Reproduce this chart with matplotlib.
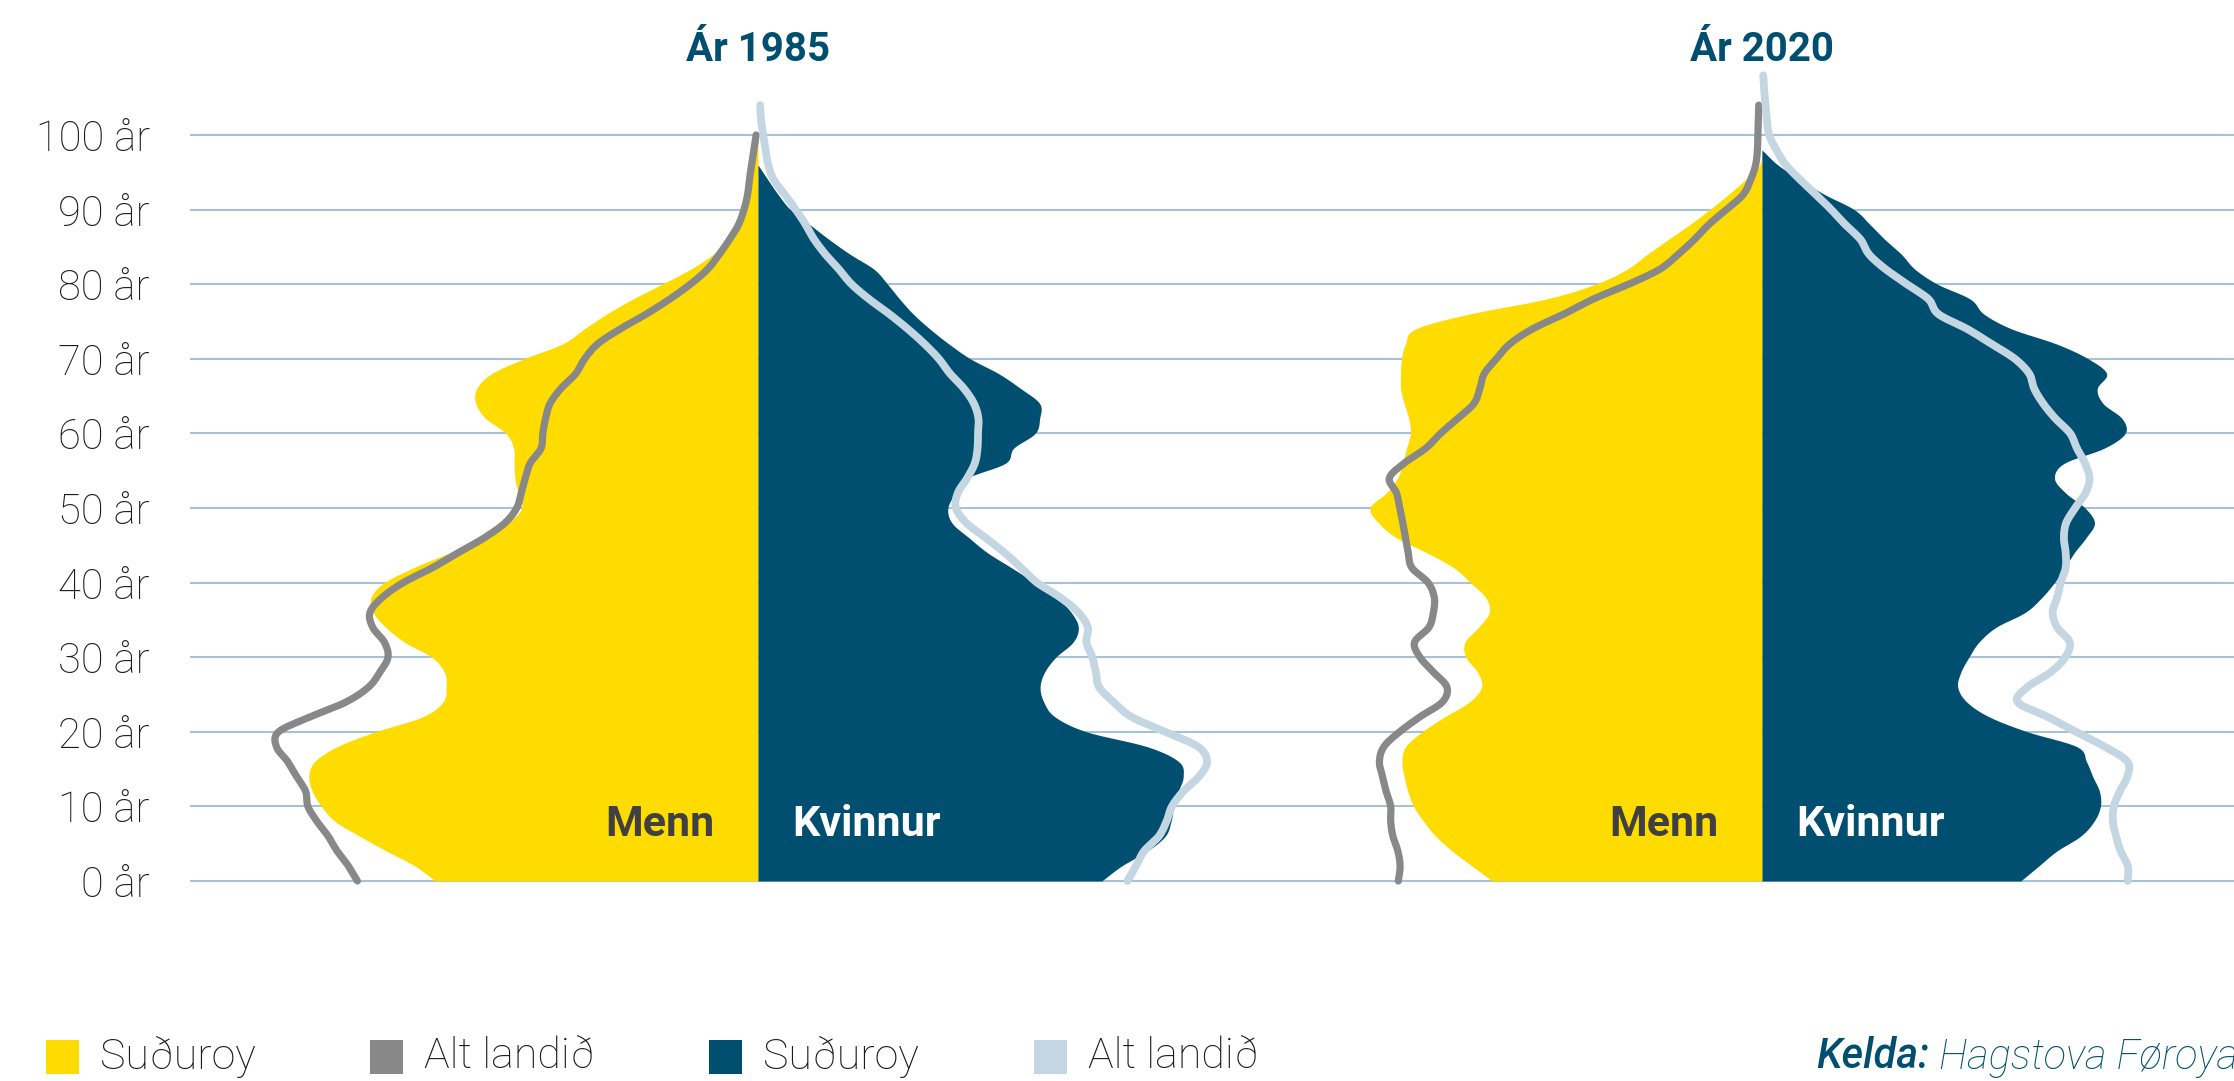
import numpy as np
import matplotlib.pyplot as plt
from matplotlib.patches import Rectangle

# Ages (every second year) and share of population per age in promille
ages = list(range(0, 110, 2))

menn_suduroy_1985 = [7.17, 7.62, 8.25, 8.85, 9.4, 9.7, 9.9, 9.98, 9.85, 9.35,
                     8.5, 7.45, 7.0, 6.93, 6.97, 7.25, 7.85, 8.27, 8.55, 8.6,
                     8.3, 7.65, 6.85, 6.1, 5.55, 5.25, 5.33, 5.4, 5.42, 5.43,
                     5.6, 6.05, 6.27, 6.25, 5.92, 5.2, 4.34, 3.86, 3.36, 2.78,
                     2.13, 1.5, 1.0, 0.7, 0.5, 0.33, 0.24, 0.18, 0.12, 0.07, 0.02]
menn_alt_1985 = [8.9, 9.1, 9.35, 9.55, 9.8, 10.0, 10.05, 10.25, 10.45, 10.7,
                 10.65, 9.95, 9.15, 8.65, 8.4, 8.22, 8.3, 8.56, 8.62, 8.35,
                 7.88, 7.23, 6.66, 6.08, 5.62, 5.36, 5.26, 5.17, 5.06, 4.82,
                 4.78, 4.72, 4.62, 4.38, 4.05, 3.85, 3.56, 3.06, 2.48, 1.96,
                 1.5, 1.12, 0.86, 0.63, 0.43, 0.31, 0.23, 0.19, 0.14, 0.09, 0.04]
kvinnur_suduroy_1985 = [7.64, 8.08, 8.65, 9.05, 9.18, 9.24, 9.34, 9.45, 9.35, 8.65,
                        7.3, 6.6, 6.35, 6.27, 6.37, 6.62, 7.0, 7.12, 6.96, 6.63,
                        6.15, 5.63, 5.1, 4.69, 4.31, 4.22, 4.39, 4.65, 5.5, 5.68,
                        6.16, 6.26, 6.26, 5.84, 5.35, 4.72, 4.24, 3.82, 3.45, 3.15,
                        2.88, 2.58, 2.05, 1.58, 1.15, 0.72, 0.45, 0.22, 0.0]
kvinnur_alt_1985 = [8.21, 8.4, 8.58, 8.91, 9.08, 9.2, 9.45, 9.8, 9.98, 9.78,
                    9.05, 8.3, 7.9, 7.58, 7.51, 7.43, 7.3, 7.33, 7.12, 6.72,
                    6.2, 5.85, 5.48, 5.06, 4.63, 4.4, 4.44, 4.65, 4.82, 4.88,
                    4.89, 4.9, 4.8, 4.58, 4.27, 4.02, 3.7, 3.33, 2.92, 2.47,
                    2.08, 1.8, 1.5, 1.25, 1.06, 0.84, 0.6, 0.35, 0.23, 0.17,
                    0.12, 0.07, 0.05]

menn_suduroy_2020 = [5.99, 6.44, 6.88, 7.25, 7.52, 7.74, 7.87, 7.95, 8.0, 7.92,
                     7.55, 7.05, 6.5, 6.23, 6.32, 6.58, 6.6, 6.3, 6.06, 6.14,
                     6.48, 6.85, 7.45, 8.12, 8.52, 8.71, 8.35, 8.1, 7.98, 7.9,
                     7.81, 7.85, 7.95, 8.03, 8.03, 8.01, 7.92, 7.7, 6.5, 4.8,
                     3.7, 3.0, 2.55, 2.08, 1.6, 1.16, 0.75, 0.37, 0.05, 0.0]
menn_alt_2020 = [8.08, 8.04, 8.09, 8.2, 8.25, 8.25, 8.35, 8.43, 8.5, 8.4,
                 8.05, 7.6, 7.1, 7.0, 7.3, 7.6, 7.72, 7.4, 7.3, 7.28,
                 7.42, 7.78, 7.86, 7.92, 7.98, 8.05, 8.12, 8.28, 7.95, 7.47,
                 7.14, 6.76, 6.4, 6.27, 6.17, 5.9, 5.6, 5.1, 4.4, 3.75,
                 2.96, 2.27, 1.86, 1.5, 1.18, 0.79, 0.42, 0.25, 0.14, 0.1,
                 0.09, 0.08, 0.07]
kvinnur_suduroy_2020 = [5.75, 6.15, 6.55, 7.08, 7.38, 7.52, 7.5, 7.35, 7.21, 7.0,
                        5.9, 5.05, 4.55, 4.35, 4.42, 4.6, 4.82, 5.2, 5.85, 6.22,
                        6.5, 6.73, 6.94, 7.2, 7.39, 7.18, 6.75, 6.5, 6.72, 7.6,
                        8.07, 8.0, 7.58, 7.45, 7.66, 7.25, 6.54, 5.55, 4.93, 4.63,
                        3.9, 3.4, 3.1, 2.73, 2.4, 2.05, 1.4, 0.85, 0.35, 0.0]
kvinnur_alt_2020 = [8.13, 8.13, 7.97, 7.87, 7.8, 7.82, 7.95, 8.12, 8.12, 7.62,
                    6.98, 6.35, 5.68, 5.9, 6.42, 6.74, 6.84, 6.56, 6.46, 6.56,
                    6.64, 6.75, 6.75, 6.71, 6.76, 6.96, 7.19, 7.28, 7.18, 7.0,
                    6.85, 6.52, 6.25, 6.05, 5.94, 5.62, 5.1, 4.56, 3.92, 3.7,
                    3.22, 2.75, 2.38, 2.19, 1.85, 1.54, 1.2, 0.85, 0.53, 0.32,
                    0.16, 0.11, 0.08, 0.05, 0.03]

years = ['1985', '2020']
ytick_ages = list(range(0, 101, 10))
ytick_labels = [f'{a} år' for a in ytick_ages]
legend_labels = ['Suðuroy', 'Alt landið', 'Suðuroy', 'Alt landið']

YELLOW = '#FEDC00'
DARK_BLUE = '#004F71'
GREY = '#888888'
LIGHT_BLUE = '#C5D6E3'
GRID = '#A9C1D5'

W, H = 2234, 1081
plt.rcParams['font.family'] = ['Roboto', 'DejaVu Sans']


def fx(x):
    return x / W


def fy(y):
    return 1 - y / H


def smooth(vals, n=8):
    # Catmull-Rom curve through the read points, like the smoothed lines of the original
    a = np.array(ages[:len(vals)], float)
    v = np.array(vals, float)
    ap = np.concatenate([[2 * a[0] - a[1]], a, [2 * a[-1] - a[-2]]])
    vp = np.concatenate([[2 * v[0] - v[1]], v, [2 * v[-1] - v[-2]]])
    t = np.linspace(0, 1, n, endpoint=False)[:, None]
    out = []
    for i in range(len(a) - 1):
        p0, p1, p2, p3 = [np.array([ap[j], vp[j]]) for j in range(i, i + 4)]
        seg = 0.5 * (2 * p1 + (-p0 + p2) * t + (2 * p0 - 5 * p1 + 4 * p2 - p3) * t ** 2
                     + (-p0 + 3 * p1 - 3 * p2 + p3) * t ** 3)
        out.append(seg)
    out.append(np.array([[a[-1], v[-1]]]))
    out = np.vstack(out)
    return out[:, 0], np.clip(out[:, 1], 0, None)


fig = plt.figure(figsize=(W / 100, H / 100), dpi=100)
# axes: age 0 at y=881px, 7.46 px per year; 45 px per promille
ax = fig.add_axes([fx(190), fy(895.9), 1 - fx(190), (895.9 - 60.4) / H])
ax.set_xlim(-12.62, 32.80)
ax.set_ylim(-2, 110)
centers = [0.0, 22.31]

pyramids = [
    (menn_suduroy_1985, menn_alt_1985, kvinnur_suduroy_1985, kvinnur_alt_1985),
    (menn_suduroy_2020, menn_alt_2020, kvinnur_suduroy_2020, kvinnur_alt_2020),
]

for c, year, (ms, ma, ks, ka) in zip(centers, years, pyramids):
    a, v = smooth(ms)
    ax.fill_betweenx(a, c - v, c, color=YELLOW, lw=0, zorder=2)
    a, v = smooth(ks)
    ax.fill_betweenx(a, c, c + v, color=DARK_BLUE, lw=0, zorder=2)
    a, v = smooth(ma)
    ax.plot(c - v, a, color=GREY, lw=5.2,
            solid_capstyle='round', solid_joinstyle='round', zorder=3)
    a, v = smooth(ka)
    ax.plot(c + v, a, color=LIGHT_BLUE, lw=5.6,
            solid_capstyle='round', solid_joinstyle='round', zorder=4)

    ax.text(c, 111.4, f'Ár {year}', ha='center', va='center', fontsize=29,
            fontweight='bold', color=DARK_BLUE, clip_on=False)
    ax.text(c - 0.97, 6.0, 'Menn', ha='right', va='baseline', fontsize=31,
            fontweight='bold', color='#404040', zorder=5)
    ax.text(c + 0.77, 6.0, 'Kvinnur', ha='left', va='baseline', fontsize=31,
            fontweight='bold', color='white', zorder=5)

ax.set_yticks(ytick_ages)
ax.set_yticklabels(ytick_labels, fontsize=30, color='#1a1a1a', fontweight='light')
ax.tick_params(axis='y', length=0, pad=29)
ax.set_xticks([])
ax.grid(axis='y', color=GRID, lw=1.5)
ax.set_axisbelow(True)
for s in ax.spines.values():
    s.set_visible(False)

# legend
legend_colors = [YELLOW, GREY, DARK_BLUE, LIGHT_BLUE]
box_x = [46, 370, 709, 1034]
for bx, col, lab in zip(box_x, legend_colors, legend_labels):
    fig.patches.append(Rectangle((fx(bx), fy(1074)), 33 / W, 34 / H,
                                 transform=fig.transFigure, color=col, lw=0))
    fig.text(fx(bx + 54), fy(1057), lab, ha='left', va='center',
             fontsize=31, color='#1a1a1a', fontweight='light')

# source
kelda = fig.text(fx(1816), fy(1057), 'Kelda:', ha='left', va='center', fontsize=30,
                 style='italic', fontweight='medium', color=DARK_BLUE)
renderer = fig.canvas.get_renderer()
bb = kelda.get_window_extent(renderer)
fig.text(fx(bb.x1 + 10), fy(1057), 'Hagstova Føroya', ha='left', va='center',
         fontsize=30, style='italic', color=DARK_BLUE, fontweight='light')

fig.savefig('out.png', dpi=100)
